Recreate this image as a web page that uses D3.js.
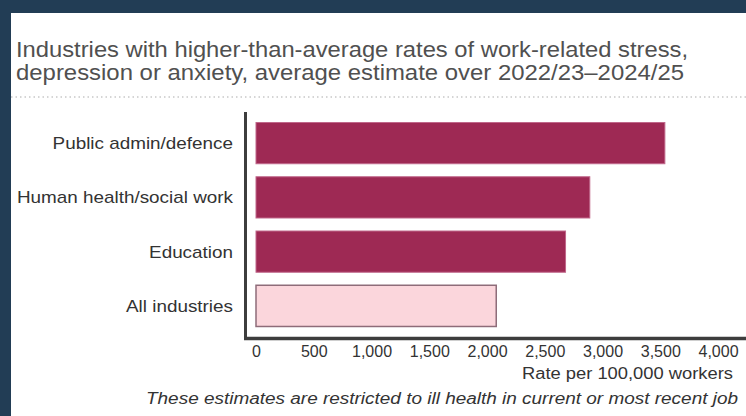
<!DOCTYPE html>
<html>
<head>
<meta charset="utf-8">
<script src="https://cdn.jsdelivr.net/npm/d3@7"></script>
<style>
  html, body { margin: 0; padding: 0; background: #223d55; }
  svg { display: block; }
  text { font-family: "Liberation Sans", Arial, Helvetica, sans-serif; }
</style>
</head>
<body>
<svg id="chart" width="746" height="416"></svg>
<script>
// data
const industries = ["Public admin/defence", "Human health/social work", "Education", "All industries"];
const rates = [3540, 2890, 2680, 2080];
const isAverage = [false, false, false, true];
const xTicks = [0, 500, 1000, 1500, 2000, 2500, 3000, 3500, 4000];
const titleLines = [
  "Industries with higher-than-average rates of work-related stress,",
  "depression or anxiety, average estimate over 2022/23\u20132024/25"
];
const xLabel = "Rate per 100,000 workers";
const footnote = "These estimates are restricted to ill health in current or most recent job";

const svg = d3.select("#chart");
const width = +svg.attr("width"), height = +svg.attr("height");

// stretch text horizontally a little, the source looks wider than Arial
function widen(sel, k) {
  sel.each(function () {
    const w = this.getComputedTextLength();
    d3.select(this).attr("textLength", w * k).attr("lengthAdjust", "spacingAndGlyphs");
  });
}

// white panel on navy frame
svg.append("rect")
  .attr("x", 11).attr("y", 13)
  .attr("width", width - 11).attr("height", height - 13)
  .attr("fill", "#fff");

// title
svg.append("g").selectAll("text")
  .data(titleLines)
  .join("text")
  .attr("x", 16)
  .attr("y", (d, i) => 57 + i * 23)
  .attr("fill", "#505050")
  .style("font-size", "22px")
  .text(d => d)
  .each(function (d, i) {
    d3.select(this).attr("textLength", i === 0 ? 672 : 668).attr("lengthAdjust", "spacingAndGlyphs");
  });

// dotted rule under the title
svg.append("line")
  .attr("x1", 11).attr("x2", width)
  .attr("y1", 97).attr("y2", 97)
  .attr("stroke", "#c8c8c8")
  .attr("stroke-width", 1.5)
  .attr("stroke-dasharray", "1.5,3");

const x = d3.scaleLinear().domain([0, 4000]).range([256, 718]);
const y = d3.scaleBand().domain(industries).range([116, 333])
  .paddingInner(0.24).paddingOuter(0.12);

const data = industries.map((name, i) => ({ name, value: rates[i], avg: isAverage[i] }));

// bars
svg.append("g").selectAll("rect")
  .data(data)
  .join("rect")
  .attr("x", x(0))
  .attr("y", d => y(d.name))
  .attr("width", d => x(d.value) - x(0))
  .attr("height", y.bandwidth())
  .attr("fill", d => d.avg ? "#fbd6dc" : "#9e2954")
  .attr("stroke", d => d.avg ? "#8e6c79" : "#c0678a")
  .attr("stroke-width", d => d.avg ? 1.5 : 1);

// category labels
svg.append("g").selectAll("text")
  .data(data)
  .join("text")
  .attr("x", 233)
  .attr("y", d => y(d.name) + y.bandwidth() / 2)
  .attr("dy", "0.35em")
  .attr("text-anchor", "end")
  .attr("fill", "#333")
  .style("font-size", "17px")
  .text(d => d.name)
  .call(widen, 1.11);

// axis lines
svg.append("line")
  .attr("x1", 245.5).attr("x2", 245.5)
  .attr("y1", 112).attr("y2", 339)
  .attr("stroke", "#3d3d3d").attr("stroke-width", 3);
svg.append("line")
  .attr("x1", 244).attr("x2", width)
  .attr("y1", 338.5).attr("y2", 338.5)
  .attr("stroke", "#3d3d3d").attr("stroke-width", 3.5);

// x axis tick labels, no tick marks
const xAxis = svg.append("g")
  .attr("transform", "translate(0,346)")
  .call(d3.axisBottom(x).tickValues(xTicks).tickSize(0).tickPadding(0).tickFormat(d3.format(",")));
xAxis.select(".domain").remove();
xAxis.selectAll("text")
  .attr("fill", "#333")
  .attr("dy", "0.71em")
  .style("font-size", "16px")
  .style("font-family", "\"Liberation Sans\", Arial, sans-serif");

// axis title
svg.append("text")
  .attr("x", 733).attr("y", 379)
  .attr("text-anchor", "end")
  .attr("fill", "#333")
  .style("font-size", "16px")
  .attr("textLength", 211).attr("lengthAdjust", "spacingAndGlyphs")
  .text(xLabel);

// footnote
svg.append("text")
  .attr("x", 738).attr("y", 404)
  .attr("text-anchor", "end")
  .attr("fill", "#333")
  .style("font-size", "16px")
  .style("font-style", "italic")
  .attr("textLength", 592).attr("lengthAdjust", "spacingAndGlyphs")
  .text(footnote);
</script>
</body>
</html>
